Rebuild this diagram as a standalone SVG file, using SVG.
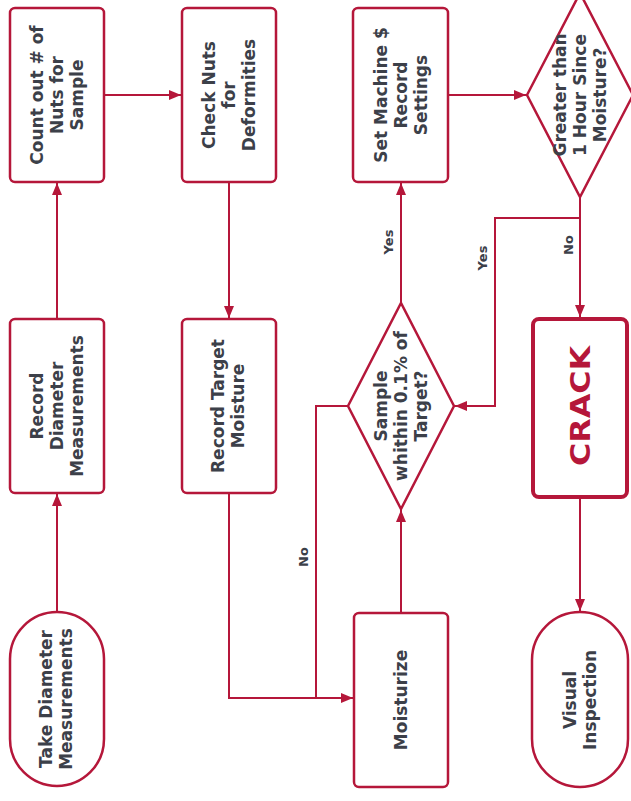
<svg xmlns="http://www.w3.org/2000/svg" width="631" height="801" viewBox="0 0 631 801">
<style>
.n{fill:#fff;stroke:#b5173a;stroke-width:2.5}
.c{fill:none;stroke:#b5173a;stroke-width:2}
.t{font-family:"DejaVu Sans",sans-serif;font-weight:bold;font-size:17px;fill:#3c4049;text-anchor:middle}
.l{font-family:"DejaVu Sans",sans-serif;font-weight:bold;font-size:13px;fill:#3c4049;text-anchor:middle}
</style>
<defs>
<marker id="a" viewBox="0 0 12 10" refX="12" refY="5" markerWidth="12" markerHeight="10" markerUnits="userSpaceOnUse" orient="auto">
<path d="M0,0 L12,5 L0,10 z" fill="#b5173a"/>
</marker>
</defs>
<rect width="631" height="801" fill="#fff"/>
<g id="connectors">
<path class="c" d="M57,612 L57,494" marker-end="url(#a)"/>
<path class="c" d="M57,319 L57,183" marker-end="url(#a)"/>
<path class="c" d="M104,95 L181,95" marker-end="url(#a)"/>
<path class="c" d="M229,182 L229,318" marker-end="url(#a)"/>
<path class="c" d="M229,493 L229,698 L353,698" marker-end="url(#a)"/>
<path class="c" d="M348,406 L316,406 L316,698"/>
<path class="c" d="M401,613 L401,510" marker-end="url(#a)"/>
<path class="c" d="M401,303 L401,183" marker-end="url(#a)"/>
<path class="c" d="M448,95 L526,95" marker-end="url(#a)"/>
<path class="c" d="M580,197 L580,218 L495,218 L495,406 L455,406" marker-end="url(#a)"/>
<path class="c" d="M580,197 L580,317" marker-end="url(#a)"/>
<path class="c" d="M580,498 L580,611" marker-end="url(#a)"/>
<text class="l" transform="translate(388,242) rotate(-90)" y="5">Yes</text>
<text class="l" transform="translate(482,258) rotate(-90)" y="5">Yes</text>
<text class="l" transform="translate(568,245) rotate(-90)" y="5">No</text>
<text class="l" transform="translate(303,557) rotate(-90)" y="5">No</text>
</g>
<g id="count">
<rect class="n" x="10" y="8" width="94" height="174" rx="5"/>
<text class="t" transform="translate(57,95) rotate(-90)"><tspan x="0" y="-14">Count out # of</tspan><tspan x="0" y="6">Nuts for</tspan><tspan x="0" y="26">Sample</tspan></text>
</g>
<g id="check">
<rect class="n" x="182" y="8" width="94" height="174" rx="5"/>
<text class="t" transform="translate(229,95) rotate(-90)"><tspan x="0" y="-14">Check Nuts</tspan><tspan x="0" y="6">for</tspan><tspan x="0" y="26">Deformities</tspan></text>
</g>
<g id="setmachine">
<rect class="n" x="353" y="8" width="95" height="174" rx="5"/>
<text class="t" transform="translate(401,95) rotate(-90)"><tspan x="0" y="-14">Set Machine $</tspan><tspan x="0" y="6">Record</tspan><tspan x="0" y="26">Settings</tspan></text>
</g>
<g id="greater">
<polygon class="n" points="527,95 580,-7 633,95 580,197"/>
<text class="t" transform="translate(580,95) rotate(-90)"><tspan x="0" y="-14">Greater than</tspan><tspan x="0" y="6">1 Hour Since</tspan><tspan x="0" y="26">Moisture?</tspan></text>
</g>
<g id="recorddiameter">
<rect class="n" x="10" y="319" width="94" height="174" rx="5"/>
<text class="t" transform="translate(57,406) rotate(-90)"><tspan x="0" y="-14">Record</tspan><tspan x="0" y="6">Diameter</tspan><tspan x="0" y="26">Measurements</tspan></text>
</g>
<g id="recordtarget">
<rect class="n" x="182" y="319" width="94" height="174" rx="5"/>
<text class="t" transform="translate(229,406) rotate(-90)"><tspan x="0" y="-5">Record Target</tspan><tspan x="0" y="15">Moisture</tspan></text>
</g>
<g id="sample">
<polygon class="n" points="348,406 401,303 454,406 401,509"/>
<text class="t" transform="translate(401,406) rotate(-90)"><tspan x="0" y="-14">Sample</tspan><tspan x="0" y="6">whithin 0.1% of</tspan><tspan x="0" y="26">Target?</tspan></text>
</g>
<g id="crack">
<rect x="533" y="319" width="94" height="178" rx="6" fill="#fff" stroke="#b5173a" stroke-width="4"/>
<text transform="translate(580,406) rotate(-90)" y="10" text-anchor="middle" font-family="DejaVu Sans, sans-serif" font-weight="bold" font-size="27" fill="#b5173a" textLength="120" lengthAdjust="spacingAndGlyphs">CRACK</text>
</g>
<g id="take">
<rect class="n" x="10" y="612" width="94" height="174" rx="47"/>
<text class="t" transform="translate(57,699) rotate(-90)"><tspan x="0" y="-5">Take Diameter</tspan><tspan x="0" y="15">Measurements</tspan></text>
</g>
<g id="moisturize">
<rect class="n" x="354" y="613" width="94" height="174" rx="5"/>
<text class="t" transform="translate(401,700) rotate(-90)" y="6">Moisturize</text>
</g>
<g id="visual">
<rect class="n" x="532" y="612" width="96" height="175" rx="48"/>
<text class="t" transform="translate(580,700) rotate(-90)"><tspan x="0" y="-4">Visual</tspan><tspan x="0" y="16">Inspection</tspan></text>
</g>
</svg>
